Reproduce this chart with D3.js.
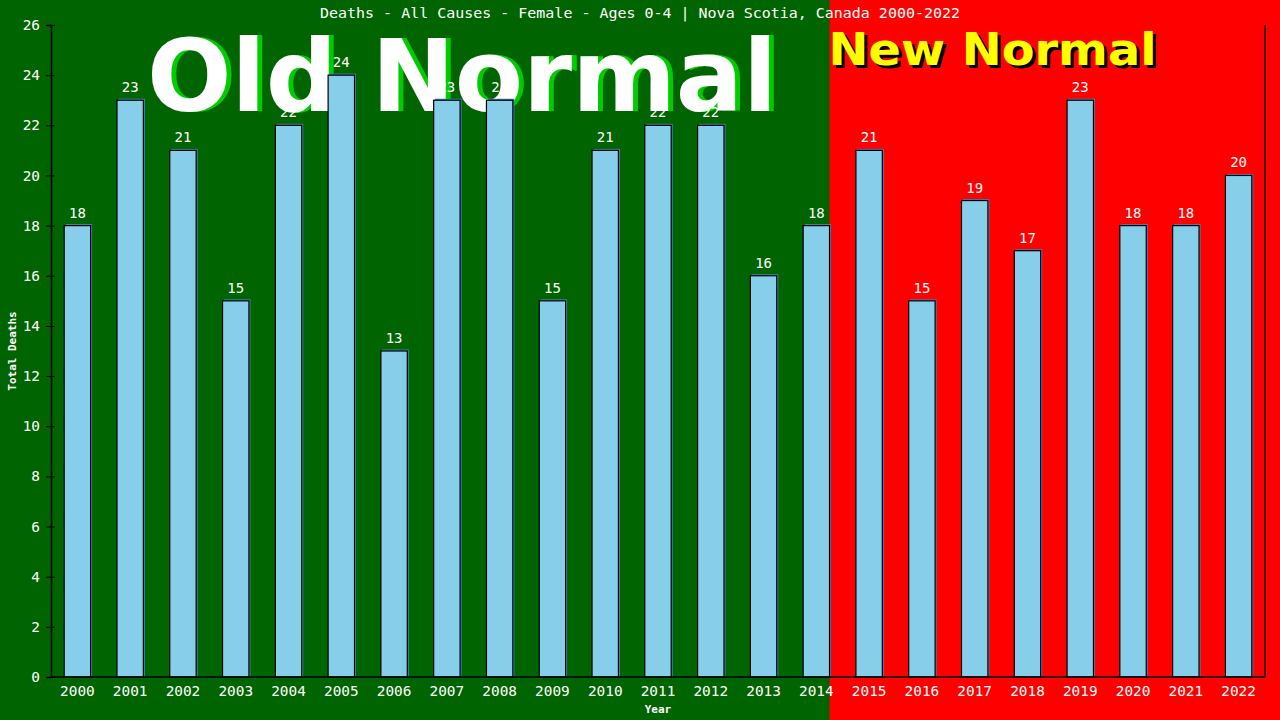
<!DOCTYPE html>
<html>
<head>
<meta charset="utf-8">
<script src="https://cdn.jsdelivr.net/npm/d3@7"></script>
<style>
  body { margin: 0; background: #006400; overflow: hidden; }
  text { font-family: "DejaVu Sans Mono", monospace; fill: #ffffff; }
</style>
</head>
<body>
<script>
// 数据
const years = ['2000', '2001', '2002', '2003', '2004', '2005', '2006', '2007', '2008', '2009', '2010', '2011',
    '2012', '2013', '2014', '2015', '2016', '2017', '2018', '2019', '2020', '2021', '2022'];
const deaths = [18, 23, 21, 15, 22, 24, 13, 23, 23, 15, 21, 22, 22, 16, 18, 21, 15, 19, 17, 23, 18, 18, 20];
const yTicks = [0, 2, 4, 6, 8, 10, 12, 14, 16, 18, 20, 22, 24, 26];
const lastOldYear = '2014';

const width = 1280, height = 720;
const margin = {top: 25, right: 15, bottom: 43, left: 51};

const svg = d3.select('body')
    .append('svg')
    .attr('width', width)
    .attr('height', height);

const x = d3.scaleBand()
    .domain(years)
    .range([margin.left, width - margin.right])
    .paddingInner(0.5)
    .paddingOuter(0.25);
const y = d3.scaleLinear()
    .domain([0, 26])
    .range([height - margin.bottom, margin.top]);

// 背景：旧常态绿色，新常态红色
const splitX = x(lastOldYear) + x.bandwidth();
svg.append('rect')
    .attr('x', 0).attr('y', 0)
    .attr('width', splitX).attr('height', height)
    .attr('fill', '#006400');
svg.append('rect')
    .attr('x', splitX).attr('y', 0)
    .attr('width', width - splitX).attr('height', height)
    .attr('fill', '#ff0000');

// 大标题文字
const bigFont = '"DejaVu Sans", Verdana, sans-serif';
const addBig = (txt, xPos, yPos, len, size, shadow, fill, dx, dy) => {
    svg.append('text')
        .attr('x', xPos).attr('y', yPos)
        .attr('textLength', len).attr('lengthAdjust', 'spacingAndGlyphs')
        .style('font-family', bigFont).style('font-weight', 'bold').style('font-size', size)
        .style('fill', shadow)
        .attr('transform', `translate(${dx},${dy})`)
        .text(txt);
    svg.append('text')
        .attr('x', xPos).attr('y', yPos)
        .attr('textLength', len).attr('lengthAdjust', 'spacingAndGlyphs')
        .style('font-family', bigFont).style('font-weight', 'bold').style('font-size', size)
        .style('fill', fill)
        .text(txt);
};
addBig('Old Normal', 147, 111, 630, '100px', '#00cc00', '#ffffff', 5, 0);
addBig('New Normal', splitX - 1, 65, 328, '44px', '#000000', '#ffff00', 3, 3);

// 标题
svg.append('text')
    .attr('x', 320).attr('y', 18)
    .attr('textLength', 640).attr('lengthAdjust', 'spacingAndGlyphs')
    .style('font-size', '14.6px')
    .text('Deaths - All Causes - Female - Ages 0-4 | Nova Scotia, Canada 2000-2022');

// 柱子
const data = years.map((d, i) => ({year: d, value: deaths[i]}));
const bars = svg.append('g').selectAll('g')
    .data(data)
    .enter()
    .append('g');
bars.append('rect')
    .attr('x', d => x(d.year) + 1.5)
    .attr('y', d => y(d.value) - 1.5)
    .attr('width', x.bandwidth())
    .attr('height', d => y(0) - y(d.value) + 1.5)
    .attr('fill', '#4682b4');
bars.append('rect')
    .attr('x', d => x(d.year))
    .attr('y', d => y(d.value))
    .attr('width', x.bandwidth())
    .attr('height', d => y(0) - y(d.value))
    .attr('fill', '#87ceeb')
    .attr('stroke', '#000000')
    .attr('stroke-width', 1.2);
bars.append('text')
    .attr('x', d => x(d.year) + x.bandwidth() / 2)
    .attr('y', d => y(d.value) - 8)
    .attr('text-anchor', 'middle')
    .style('font-size', '14px')
    .text(d => d.value);

// 坐标轴
const yAxis = svg.append('g')
    .attr('transform', `translate(${margin.left},0)`)
    .call(d3.axisLeft(y).tickValues(yTicks).tickSize(5).tickPadding(6));
yAxis.selectAll('.tick line').attr('x2', 4).attr('x1', -5);
const xAxis = svg.append('g')
    .attr('transform', `translate(0,${height - margin.bottom})`)
    .call(d3.axisBottom(x).tickSize(0).tickPadding(9));
[yAxis, xAxis].forEach(a => {
    a.select('.domain').attr('stroke', '#000000').attr('stroke-width', 1.5);
    a.selectAll('.tick line').attr('stroke', '#000000');
    a.selectAll('.tick text')
        .style('font-family', '"DejaVu Sans Mono", monospace')
        .style('font-size', '14.4px')
        .attr('fill', '#ffffff');
});
xAxis.select('.domain').attr('d', `M${margin.left},0H${width - margin.right}`);
svg.append('line')
    .attr('x1', width - margin.right).attr('x2', width - margin.right)
    .attr('y1', margin.top).attr('y2', height - margin.bottom)
    .attr('stroke', '#000000').attr('stroke-width', 1.5);

// 轴标题
svg.append('text')
    .attr('x', (margin.left + width - margin.right) / 2).attr('y', 713)
    .attr('text-anchor', 'middle')
    .style('font-size', '11px').style('font-weight', 'bold')
    .text('Year');
svg.append('text')
    .attr('transform', `translate(16,${(margin.top + height - margin.bottom) / 2}) rotate(-90)`)
    .attr('text-anchor', 'middle')
    .style('font-size', '11px').style('font-weight', 'bold')
    .text('Total Deaths');
</script>
</body>
</html>
